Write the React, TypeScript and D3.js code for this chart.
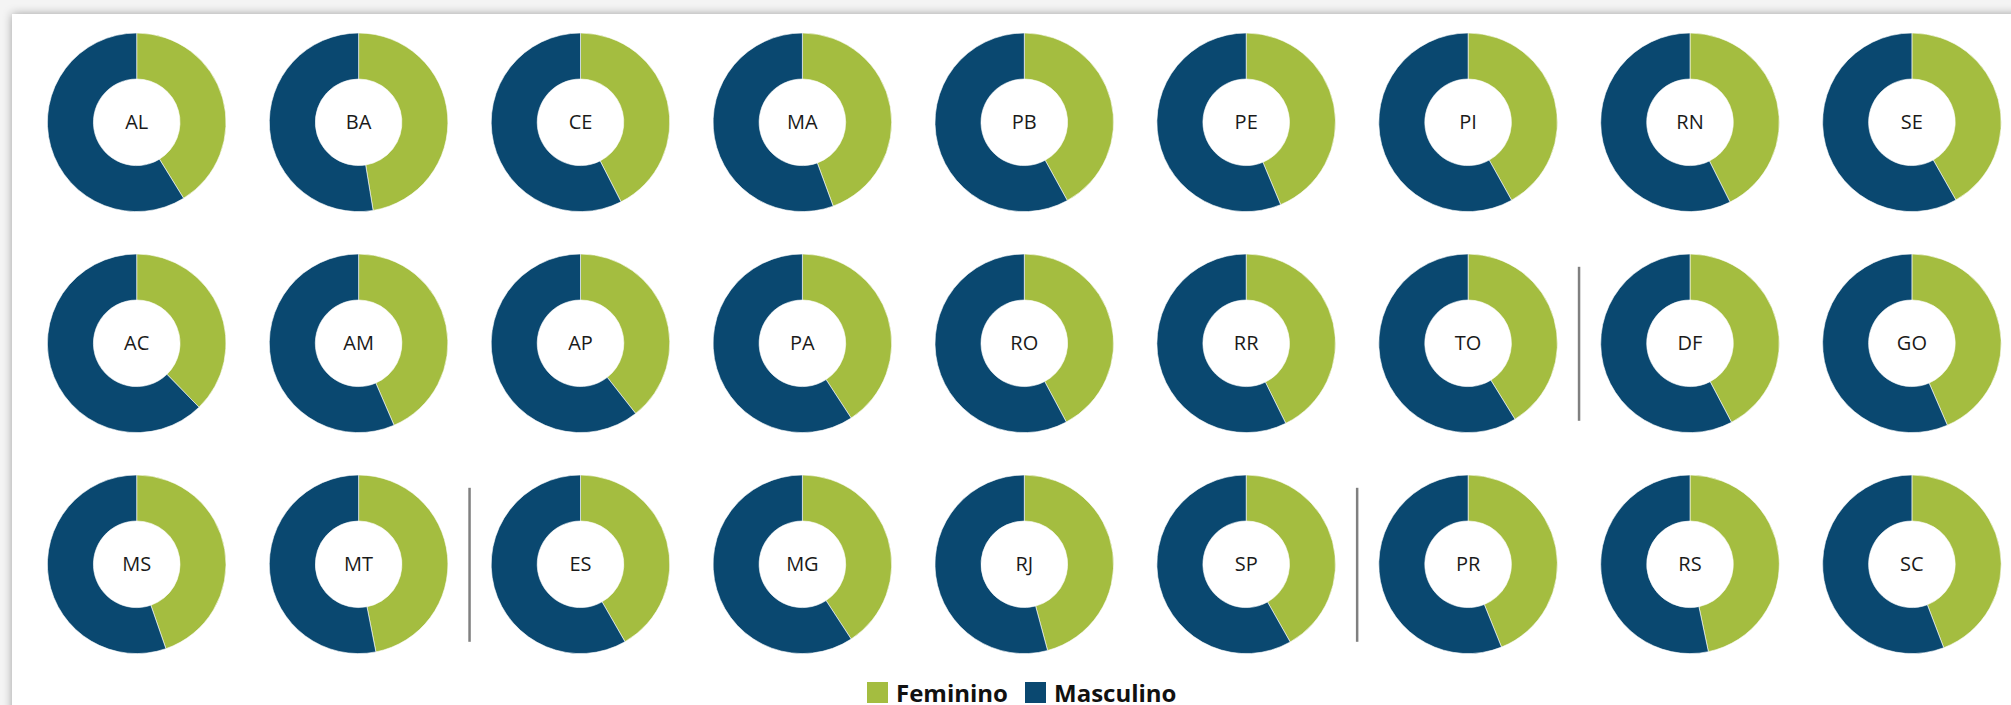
import React from "react";
import * as d3 from "d3";

const row1States = ["AL", "BA", "CE", "MA", "PB", "PE", "PI", "RN", "SE"];
const row1Feminino = [41.2, 47.4, 42.5, 44.4, 42.0, 43.7, 41.9, 42.6, 41.8];
const row2States = ["AC", "AM", "AP", "PA", "RO", "RR", "TO", "DF", "GO"];
const row2Feminino = [37.7, 43.5, 39.4, 40.8, 42.2, 42.7, 41.2, 42.3, 43.5];
const row3States = ["MS", "MT", "ES", "MG", "RJ", "SP", "PR", "RS", "SC"];
const row3Feminino = [44.7, 46.9, 41.7, 40.8, 45.8, 41.8, 43.9, 46.7, 44.2];
// separators drawn after these column indices per row
const rowSeparators = [[], [6], [1, 5]];
const seriesNames = ["Feminino", "Masculino"];
const seriesColors = ["#A4BD40", "#0A4870"];

const W = 2011;
const H = 705;

export default function App() {
  const rows = [
    { states: row1States, fem: row1Feminino },
    { states: row2States, fem: row2Feminino },
    { states: row3States, fem: row3Feminino },
  ];
  const cols = d3.range(9);
  const x = d3.scalePoint<number>().domain(cols).range([136.7, 1911.9]);
  const y = d3.scalePoint<number>().domain([0, 1, 2]).range([122.3, 564.3]);
  const outerR = 89.3;
  const innerR = 43.3;
  const pie = d3
    .pie<number>()
    .sort(null)
    .value((d) => d);
  const arc = d3.arc<d3.PieArcDatum<number>>().innerRadius(innerR).outerRadius(outerR);
  const color = d3.scaleOrdinal<string, string>().domain(seriesNames).range(seriesColors);
  const step = x.step();

  return (
    <svg
      width={W}
      height={H}
      style={{ position: "absolute", left: 0, top: 0, background: "#fff" }}
    >
      <defs>
        <filter id="shadow" x="-5%" y="-10%" width="110%" height="120%">
          <feDropShadow dx="0" dy="0" stdDeviation="5" floodColor="#000" floodOpacity="0.35" />
        </filter>
      </defs>
      <rect x={0} y={0} width={W} height={H} fill="#f4f4f4" />
      <rect x={12} y={14} width={W + 40} height={H + 40} fill="#fff" filter="url(#shadow)" />
      {rows.map((row, ri) => (
        <g key={ri}>
          {row.states.map((st, ci) => {
            const f = row.fem[ci];
            const arcs = pie([f, 100 - f]);
            return (
              <g key={st} transform={`translate(${x(ci)},${y(ri)})`}>
                {arcs.map((a, i) => (
                  <path
                    key={i}
                    d={arc(a) || ""}
                    fill={color(seriesNames[i])}
                    stroke="#fff"
                    strokeWidth={0.6}
                  />
                ))}
                <text
                  x={0}
                  y={7}
                  textAnchor="middle"
                  fontFamily="'Open Sans', sans-serif"
                  fontSize={20}
                  fill="#1a1a1a"
                >
                  {st}
                </text>
              </g>
            );
          })}
          {rowSeparators[ri].map((c) => (
            <line
              key={c}
              x1={(x(c) as number) + step / 2}
              x2={(x(c) as number) + step / 2}
              y1={(y(ri) as number) - 76.5}
              y2={(y(ri) as number) + 77.5}
              stroke="#808080"
              strokeWidth={2.5}
            />
          ))}
        </g>
      ))}
      <g fontFamily="'Open Sans', sans-serif" fontWeight="bold" fontSize={24} fill="#111">
        <rect x={867} y={682} width={21} height={21} fill={seriesColors[0]} />
        <text x={896} y={702}>{seriesNames[0]}</text>
        <rect x={1025} y={682} width={21} height={21} fill={seriesColors[1]} />
        <text x={1054} y={702}>{seriesNames[1]}</text>
      </g>
    </svg>
  );
}
